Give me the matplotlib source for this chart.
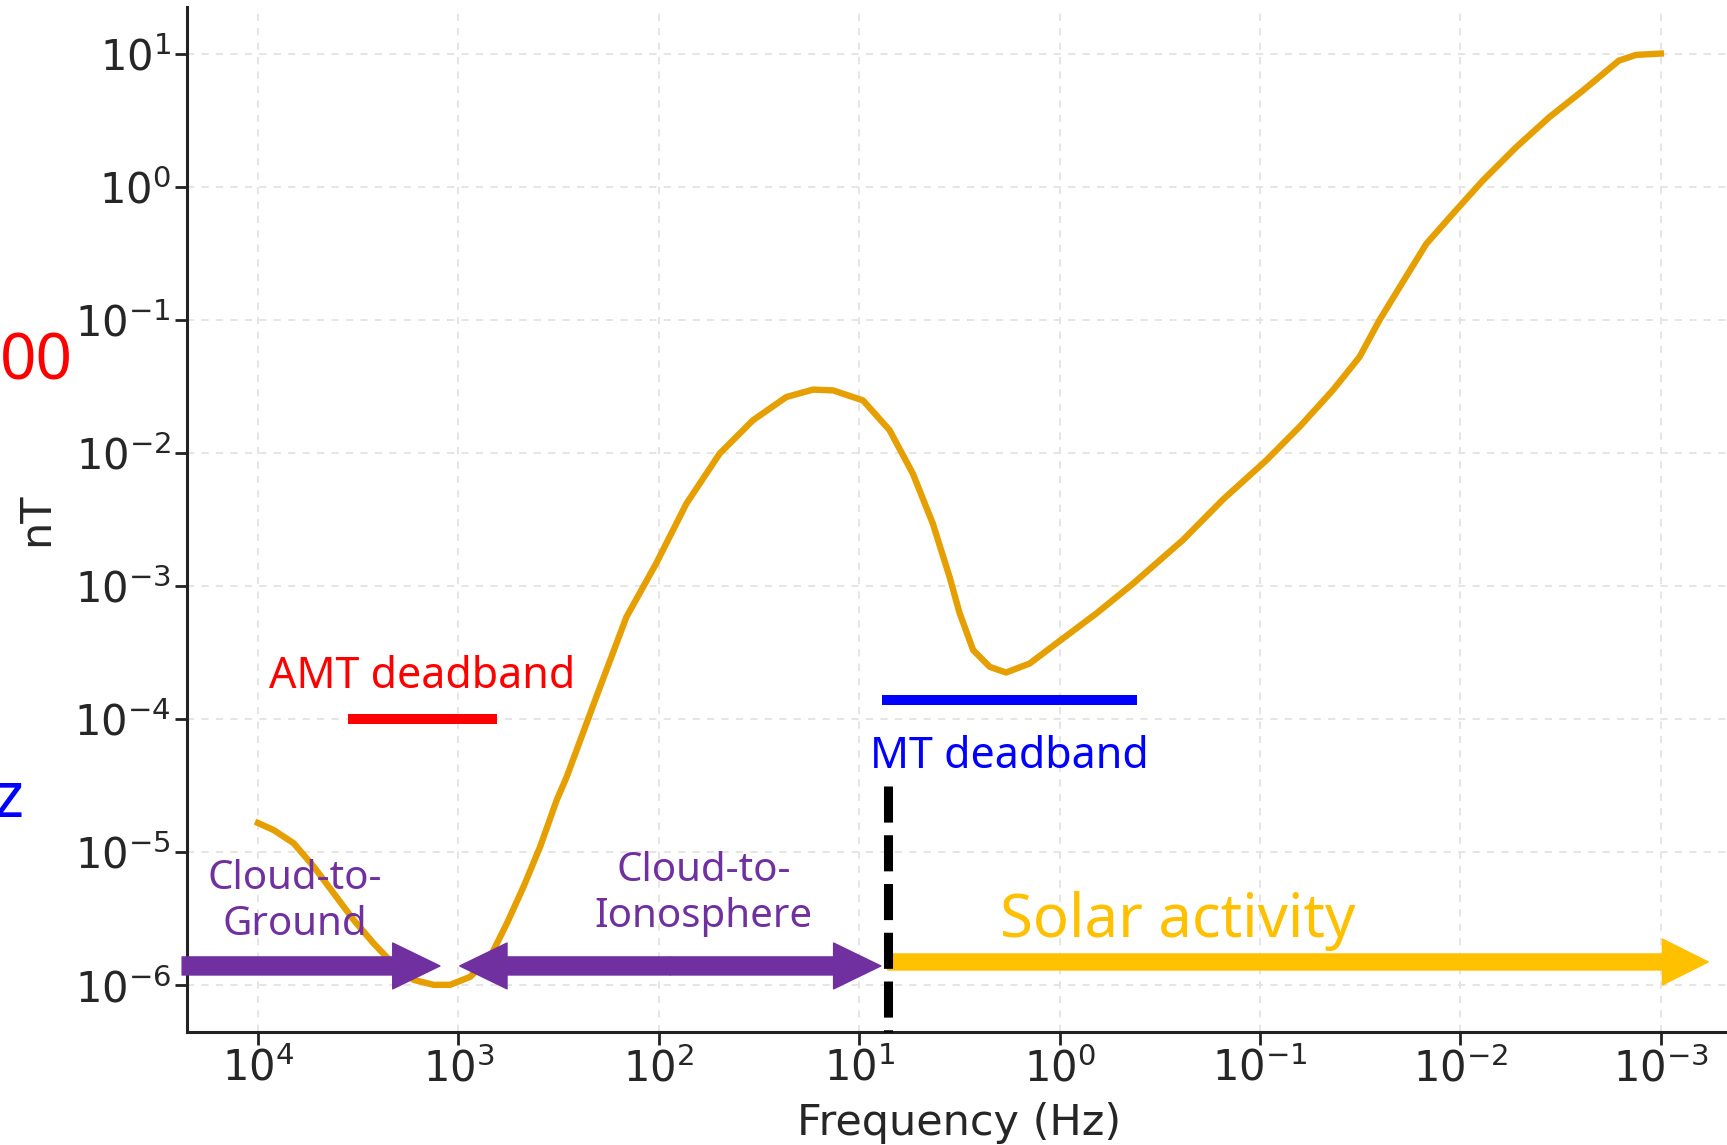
import matplotlib
matplotlib.use("Agg")
import matplotlib.pyplot as plt

# noise amplitude spectrum
freq_hz = [10000, 8360, 6640, 5270, 4190, 3330, 2650, 2100, 1670, 1330, 1100, 873, 693, 573,
           473, 391, 323, 288, 205, 145, 103, 72.8, 49.7, 33.9, 23.1, 17.0, 13.5, 9.57, 7.05,
           5.40, 4.29, 3.54, 3.16, 2.70, 2.23, 1.85, 1.41, 1.04, 0.656, 0.431, 0.243, 0.153,
           0.0931, 0.0635, 0.0434, 0.0319, 0.0254, 0.0201, 0.0148, 0.0109, 0.00774, 0.00527,
           0.00360, 0.00245, 0.00162, 0.00133, 0.001]
amp_nt = [1.66e-5, 1.47e-5, 1.17e-5, 7.80e-6, 4.92e-6, 3.10e-6, 2.07e-6, 1.43e-6, 1.10e-6,
          1.01e-6, 1.01e-6, 1.16e-6, 1.64e-6, 2.92e-6, 5.51e-6, 1.10e-5, 2.47e-5, 3.69e-5,
          1.47e-4, 5.86e-4, 1.48e-3, 4.16e-3, 9.89e-3, 0.0176, 0.0263, 0.0299, 0.0295, 0.0248,
          0.0148, 7.00e-3, 2.94e-3, 1.17e-3, 6.31e-4, 3.30e-4, 2.47e-4, 2.24e-4, 2.62e-4,
          3.70e-4, 6.22e-4, 1.04e-3, 2.21e-3, 4.47e-3, 8.79e-3, 0.0157, 0.0295, 0.0525,
          0.0989, 0.176, 0.372, 0.627, 1.11, 1.98, 3.33, 5.27, 8.85, 9.77, 10]

x_ticks = [1e4, 1e3, 1e2, 1e1, 1e0, 1e-1, 1e-2, 1e-3]
y_ticks = [1e1, 1e0, 1e-1, 1e-2, 1e-3, 1e-4, 1e-5, 1e-6]

# deadbands (Hz range, level in nT)
amt_band = (3556, 643, 1e-4)
mt_band = (7.7, 0.41, 1.4e-4)
mt_cut_hz = 7.2

# source arrows (Hz)
ctg_range = (23900, 1236)
cti_range = (984, 7.8)
solar_range = (7.2, 5.8e-4)
arrow_level = 1.4e-6

purple = "#7030A0"
solar_col = "#FFC000"
ann_font = ["Noto Sans", "DejaVu Sans"]


def main():
    fig = plt.figure(figsize=(17.27, 11.45), dpi=100)
    ax = fig.add_axes([0.1083, 0.0987, 0.894, 0.8952])

    ax.plot(freq_hz, amp_nt, color="#E69F00", linewidth=4.6, zorder=3,
            solid_joinstyle="round")
    ax.set_xscale("log")
    ax.set_yscale("log")
    ax.set_xlim(10 ** 4.354, 10 ** -3.35)
    ax.set_ylim(10 ** -6.35, 10 ** 1.35)
    ax.set_xticks(x_ticks)
    ax.set_yticks(y_ticks)
    ax.minorticks_off()
    ax.grid(True, color="#e3e3e3", linestyle=(0, (4, 4)), linewidth=1.3)

    for side in ["top", "right"]:
        ax.spines[side].set_visible(False)
    for side in ["left", "bottom"]:
        ax.spines[side].set_linewidth(2.2)
        ax.spines[side].set_color("#222222")
    ax.tick_params(length=9, width=2, color="#222222", labelsize=30,
                   labelcolor="#262626", pad=2.5)

    ax.set_xlabel("Frequency (Hz)", fontsize=31, color="#262626")
    ax.set_ylabel("nT", fontsize=31, color="#262626")
    ax.xaxis.set_label_coords(0.5, -0.068)
    ax.yaxis.set_label_coords(-0.084, 0.5)

    # deadband bars
    ax.plot(amt_band[:2], [amt_band[2]] * 2, color="red", linewidth=7.2,
            solid_capstyle="butt", zorder=4)
    ax.plot(mt_band[:2], [mt_band[2]] * 2, color="blue", linewidth=7.2,
            solid_capstyle="butt", zorder=4)
    ax.text(8810, 1.7e-4, "AMT deadband", color="red", fontsize=31,
            family=ann_font, ha="left", va="baseline")
    ax.text(8.87, 4.3e-5, "MT deadband", color="blue", fontsize=31,
            family=ann_font, ha="left", va="baseline")

    # arrows
    head = "simple,head_length=3.4,head_width=3.3,tail_width=1.3"
    ax.annotate("", xy=(ctg_range[1], arrow_level), xytext=(ctg_range[0], arrow_level),
                arrowprops=dict(arrowstyle=head, mutation_scale=10, color=purple,
                                shrinkA=0, shrinkB=0), zorder=5, annotation_clip=False)
    mid = (cti_range[0] * cti_range[1]) ** 0.5
    for tip in cti_range:
        ax.annotate("", xy=(tip, arrow_level), xytext=(mid, arrow_level),
                    arrowprops=dict(arrowstyle=head, mutation_scale=10, color=purple,
                                    shrinkA=0, shrinkB=0), zorder=5)
    ax.annotate("", xy=(solar_range[1], 1.5e-6), xytext=(solar_range[0], 1.5e-6),
                arrowprops=dict(arrowstyle="simple,head_length=3.3,head_width=3.3,tail_width=1.15",
                                mutation_scale=10, color=solar_col, shrinkA=0, shrinkB=0),
                zorder=5)

    ax.vlines(mt_cut_hz, 10 ** -4.5, 10 ** -6.35, colors="black", linewidth=6.5,
              linestyles=(0, (4, 1.4)), zorder=6, clip_on=False)

    ax.text(6530, 4.2e-6, "Cloud-to-\nGround", color=purple, fontsize=29,
            family=ann_font, ha="center", va="center", zorder=7)
    ax.text(60, 4.9e-6, "Cloud-to-\nIonosphere", color=purple, fontsize=29,
            family=ann_font, ha="center", va="center", zorder=7)
    ax.text(1.99, 2.3e-6, "Solar activity", color=solar_col, fontsize=43,
            family=ann_font, ha="left", va="baseline", zorder=7)

    # cut-off labels at the left edge
    fig.text(73 / 1727, 1 - 380 / 1145, "00", color="red", fontsize=46,
             family=ann_font, ha="right", va="baseline")
    fig.text(24 / 1727, 1 - 817 / 1145, "z", color="blue", fontsize=46,
             family=ann_font, ha="right", va="baseline")

    fig.savefig("out.png", dpi=100)


if __name__ == "__main__":
    main()
